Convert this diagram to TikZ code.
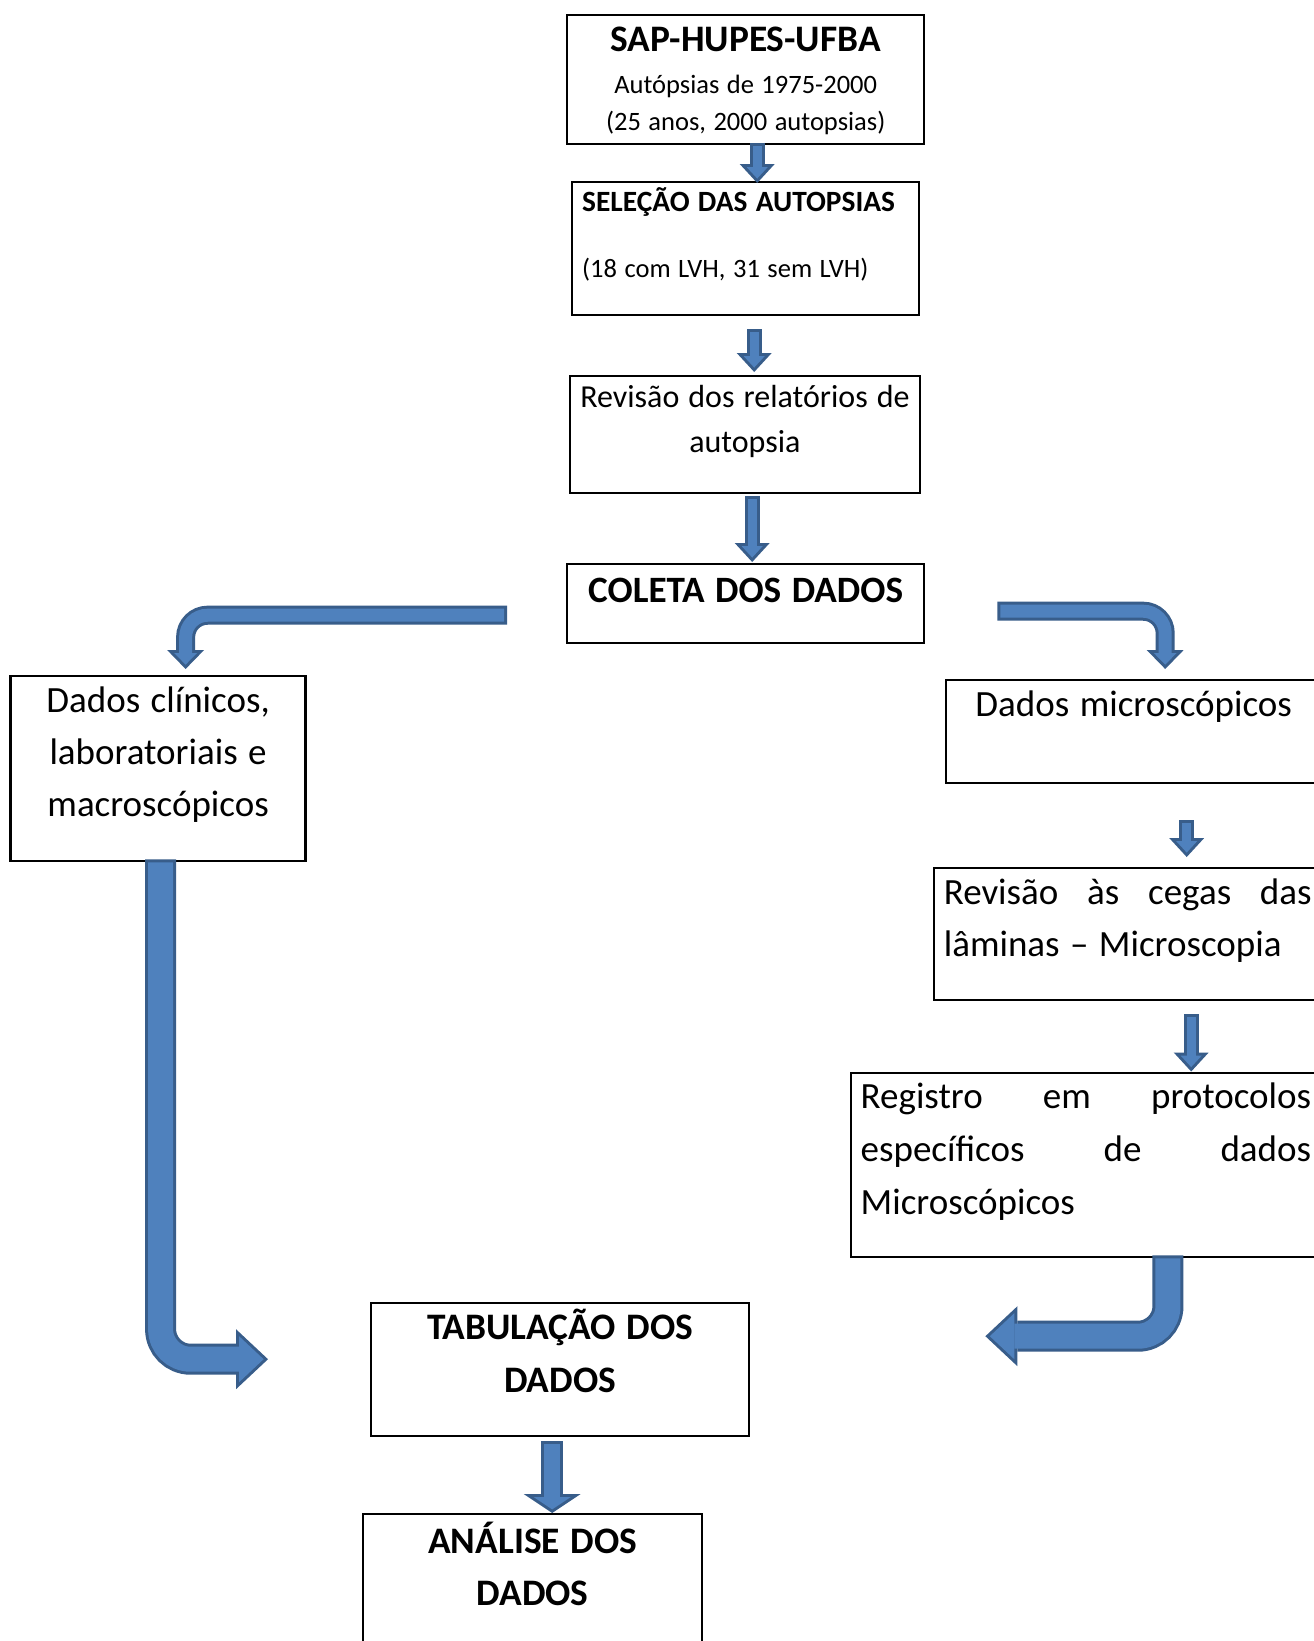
\documentclass[tikz,border=0pt]{standalone}
\usepackage{fontspec}
\setmainfont{Carlito}[WordSpace=1.25]
\usetikzlibrary{arrows.meta,calc}
\definecolor{arrblue}{HTML}{4F81BD}
\definecolor{arrdark}{HTML}{385D8A}

\begin{document}
\begin{tikzpicture}[x=1pt,y=-1pt]
		\tikzstyle{box}=[draw=black,line width=2.4pt,anchor=north west,inner xsep=5pt,inner ysep=0pt]
		\tikzstyle{arrsmall}=[draw=arrblue,line width=9pt,shorten >=4.4pt,-{Triangle[width=21.3pt,length=11.6pt,line width=0pt]},
			preaction={draw=arrdark,line width=15pt,shorten >=0pt,shorten <=-3pt,-{Triangle[width=35pt,length=19pt,line width=0pt]}}]
		\tikzstyle{arrwide}=[draw=arrblue,line width=16pt,shorten >=3.6pt,-{Triangle[width=37.2pt,length=12.4pt,line width=0pt]},
			preaction={draw=arrdark,line width=22pt,shorten >=0pt,shorten <=-3pt,-{Triangle[width=57pt,length=19pt,line width=0pt]}}]
		\tikzstyle{arrmid}=[draw=arrblue,line width=13pt,shorten >=4.3pt,rounded corners=22pt,-{Triangle[width=22.8pt,length=11.7pt,line width=0pt]},
			preaction={draw=arrdark,line width=19pt,shorten >=0pt,shorten <=-3pt,-{Triangle[width=37pt,length=19pt,line width=0pt]}}]
		\tikzstyle{arrbig}=[draw=arrblue,line width=25pt,shorten >=4.4pt,rounded corners=30pt,-{Triangle[width=46.2pt,length=24.6pt,line width=0pt]},
			preaction={draw=arrdark,line width=31pt,shorten >=0pt,shorten <=-3pt,-{Triangle[width=60pt,length=32pt,line width=0pt]}}]
		
		\useasboundingbox (0,0) rectangle (1314,1641);
		\fill[white] (0,0) rectangle (1314,1641);
		\clip (0,0) rectangle (1314,1641);
		
		% boxes
		\node[box,minimum width=357pt,text width=347pt,align=flush center,text height=37.2pt,text depth=91.8pt,
			font=\fontsize{26.5}{37.7}\selectfont] (sap) at (566,13.5)
			{{\fontsize{37.4}{40}\selectfont\bfseries SAP-HUPES-UFBA}\\[3.6pt] Autópsias de 1975-2000\\ (25 anos, 2000 autopsias)};
		\node[box,inner xsep=10pt,minimum width=347pt,text width=327pt,align=flush left,text height=29.5pt,text depth=103.5pt,
			font=\fontsize{26.5}{37.7}\selectfont] (sel) at (571,181)
			{{\fontsize{29.4}{32}\selectfont\bfseries SELEÇÃO DAS AUTOPSIAS}\\[27.8pt] (18 com LVH, 31 sem LVH)};
		\node[box,minimum width=349.5pt,text width=339.5pt,align=flush center,text height=32pt,text depth=85pt,
			font=\fontsize{32}{45}\selectfont] (rev) at (569,374.5)
			{Revisão dos relatórios de\\ autopsia};
		\node[box,minimum width=357pt,text width=347pt,align=flush center,text height=38pt,text depth=41pt,
			font=\fontsize{37.2}{52}\selectfont\bfseries] (col) at (566,563)
			{COLETA DOS DADOS};
		\node[box,minimum width=295pt,text width=285pt,align=flush center,text height=36pt,text depth=149pt,
			font=\fontsize{37}{52.3}\selectfont] (clin) at (9.4,675)
			{Dados clínicos,\\ laboratoriais e\\ macroscópicos};
		\node[box,minimum width=375pt,text width=365pt,align=flush center,text height=36pt,text depth=66.5pt,
			font=\fontsize{37}{52.3}\selectfont] (micro) at (945,679)
			{Dados microscópicos};
		\node[box,inner xsep=9.6pt,minimum width=387pt,text width=367.8pt,align=flush left,text height=37pt,text depth=95.5pt,
			font=\fontsize{37}{51.5}\selectfont] (cegas) at (933,866.5)
			{Revisão\hfill às\hfill cegas\hfill das\\ lâminas – Microscopia};
		\node[box,inner xsep=10pt,minimum width=470.5pt,text width=450.5pt,align=flush left,text height=35.5pt,text depth=149pt,
			font=\fontsize{37}{53}\selectfont] (reg) at (849.5,1071.5)
			{Registro\hfill em\hfill protocolos\\ específicos\hfill de\hfill dados\\ Microscópicos};
		\node[box,minimum width=378pt,text width=368pt,align=flush center,text height=37pt,text depth=96pt,
			font=\fontsize{37.4}{52.4}\selectfont\bfseries] (tab) at (370,1301.5)
			{TABULAÇÃO DOS\\ DADOS};
		\node[box,minimum width=339pt,text width=329pt,align=flush center,text height=39pt,text depth=111pt,
			font=\fontsize{37.4}{52}\selectfont\bfseries] (ana) at (362,1513)
			{ANÁLISE DOS\\ DADOS};
		
		% free ends of the return arrows
		\coordinate (tipL) at ([xshift=-102pt,yshift=10pt]tab.west);
		\coordinate (tipR) at ([xshift=235pt,yshift=33pt]tab.east);
		
		% block arrows
		\draw[arrsmall] ([xshift=11.5pt,yshift=-1pt]sap.south) -- ([xshift=11.5pt,yshift=-2pt]sap.south |- sel.north);
		\draw[arrsmall] ([xshift=8.5pt,yshift=-16pt]sel.south) -- ([xshift=8.5pt,yshift=2.5pt]sel.south |- rev.north);
		\draw[arrsmall] ([xshift=7.25pt,yshift=-5.5pt]rev.south) -- ([xshift=7.25pt,yshift=1pt]rev.south |- col.north);
		\draw[arrmid] ([xshift=-62pt,yshift=-11.5pt]col.west) -| ([xshift=27.5pt,yshift=6pt]clin.north);
		\draw[arrmid] ([xshift=75pt,yshift=-7.5pt]col.east) -| ([xshift=31.5pt,yshift=10pt]micro.north);
		\draw[arrsmall] ([xshift=53pt,yshift=-39.5pt]micro.south) -- ([xshift=53pt,yshift=9.5pt]micro.south |- cegas.north);
		\draw[arrsmall] ([xshift=63.5pt,yshift=-16pt]cegas.south) -- ([xshift=63.5pt]cegas.south |- reg.north);
		\draw[arrbig] ([xshift=2.5pt]clin.south) |- (tipL);
		\draw[arrbig] ([xshift=82pt]reg.south) |- (tipR);
		\draw[arrwide] ([xshift=-8pt,yshift=-7.5pt]tab.south) -- ([xshift=-8pt]tab.south |- ana.north);
\end{tikzpicture}
\end{document}
